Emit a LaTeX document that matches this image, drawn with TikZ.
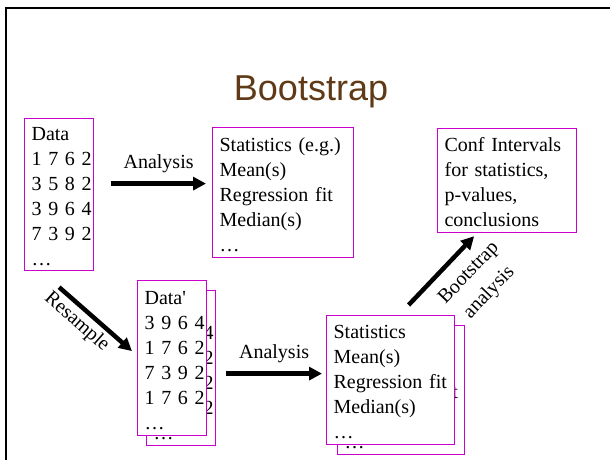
\documentclass[tikz,border=0pt]{standalone}
\usepackage{fontspec}
\setmainfont{Liberation Serif}
\newfontfamily\titlefont{Liberation Sans}
\usepackage{tikz}
\usetikzlibrary{arrows.meta, positioning, calc}
\definecolor{boxpink}{RGB}{204,0,204}
\definecolor{titlebrown}{RGB}{96,58,23}
\tikzstyle{arrow} = [line width=4.5pt, -{Triangle[length=13pt, width=13pt]}]
\tikzstyle{lbl} = [font=\fontsize{20}{25}\selectfont]
\tikzset{
	databox/.style = {rectangle, draw=boxpink, line width=1.2pt, fill=white,
		anchor=north west, inner xsep=7pt, inner ysep=0pt, align=left,
		font=\fontsize{20}{25}\selectfont, execute at begin node=\strut}
}

\begin{document}
\begin{tikzpicture}[x=1pt, y=-1pt]
\useasboundingbox (0,0) rectangle (610,459);
%----------------------------------------------------------------------------
% Slide frame and title
\draw [line width=2pt] (6,470) -- (6,8) -- (620,8);
\node (title) [anchor=base, text=titlebrown, font=\titlefont\fontsize{36}{40}\selectfont] at (311,100) {Bootstrap};

%----------------------------------------------------------------------------
% Placement of boxes
\node (data) [databox, text width=55pt, minimum height=152pt] at (24,118) {Data\\1~7~6~2\\3~5~8~2\\3~9~6~4\\7~3~9~2\\…};
\node (stats) [databox, text width=127pt, minimum height=130pt] at (212,127) {Statistics (e.g.)\\Mean(s)\\Regression~fit\\Median(s)\\…};
\node (conf) [databox, text width=125pt, minimum height=104pt] at (437,128) {Conf Intervals\\for statistics,\\p-values,\\conclusions};

\node (resBack) [databox, text width=55pt, minimum height=155pt] at (146,290) {Data\textquotesingle\\3~9~6~4\\1~7~6~2\\7~3~9~2\\1~7~6~2\\…};
\node (resFront) [databox, text width=55pt, minimum height=155pt] at ([xshift=-9pt,yshift=10pt]resBack.north west) {Data\textquotesingle\\3~9~6~4\\1~7~6~2\\7~3~9~2\\1~7~6~2\\…};

\node (statsBack) [databox, text width=113pt, minimum height=129pt] at (337,325) {Statistics\\Mean(s)\\Regression~fit\\Median(s)\\…};
\node (statsFront) [databox, text width=114pt, minimum height=129pt] at ([xshift=-11pt,yshift=10pt]statsBack.north west) {Statistics\\Mean(s)\\Regression~fit\\Median(s)\\…};

%----------------------------------------------------------------------------
% Arrows
\draw [arrow] ($(data.east)+(17,-11)$) -- ($(data.east -| stats.west)+(-6,-11)$)
	node [lbl, midway, above=5pt] (anaTop) {Analysis};
\draw [arrow] ($(data.south)+(0,16)$) -- ($(resFront.west)+(-5,-7)$)
	node [lbl, pos=0.375, sloped, below] (resample) {Resample};
\draw [arrow] ($(resFront.east)+(19,15.5)$) -- ($(resFront.east -| statsFront.west)+(-4,15.5)$)
	node [lbl, midway, above=5pt] (anaBottom) {Analysis};
\draw [arrow] ($(statsFront.north)+(18,-10)$) -- ($(conf.south)+(-33,3)$)
	node [lbl, pos=0.68, sloped, below=8pt, align=center, font=\fontsize{20}{28}\selectfont] (bootLbl) {Bootstrap\\analysis};

\end{tikzpicture}
\end{document}
